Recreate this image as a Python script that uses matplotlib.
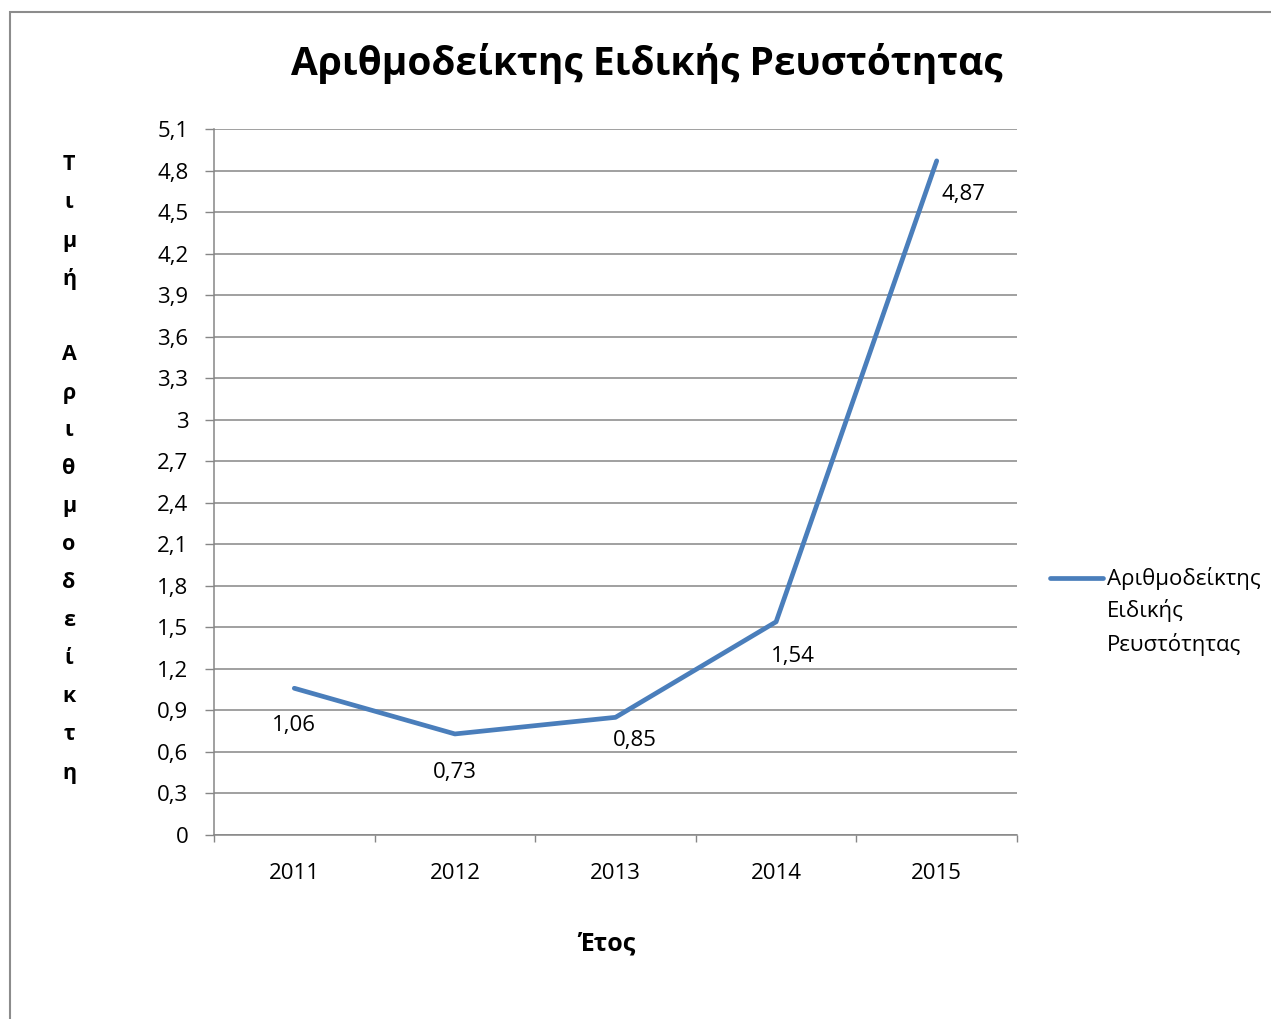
import matplotlib
matplotlib.use('Agg')
import matplotlib.pyplot as plt
from matplotlib.patches import Rectangle
from matplotlib.lines import Line2D

# --- data ---
years = ['2011', '2012', '2013', '2014', '2015']
values = [1.06, 0.73, 0.85, 1.54, 4.87]
value_labels = ['1,06', '0,73', '0,85', '1,54', '4,87']
label_offsets = [(0, -27), (0, -28), (14, -17), (12, -25), (19, -24)]  # points
y_ticks = [0, 0.3, 0.6, 0.9, 1.2, 1.5, 1.8, 2.1, 2.4, 2.7, 3.0, 3.3, 3.6, 3.9, 4.2, 4.5, 4.8, 5.1]
y_tick_labels = ['0', '0,3', '0,6', '0,9', '1,2', '1,5', '1,8', '2,1', '2,4', '2,7', '3',
                 '3,3', '3,6', '3,9', '4,2', '4,5', '4,8', '5,1']

title = 'Αριθμοδείκτης Ειδικής Ρευστότητας'
series_name = ['Αριθμοδείκτης', 'Ειδικής', 'Ρευστότητας']
y_title = 'Τιμή Αριθμοδείκτη'
x_title = 'Έτος'

plt.rcParams['font.family'] = ['Open Sans', 'Noto Sans', 'DejaVu Sans']

LINE = '#4A7EBB'
GRID = '#868686'
W, H = 1271, 1019
FS = 16

fig = plt.figure(figsize=(W / 100, H / 100), dpi=100)
fig.patch.set_facecolor('white')

# chart border (left/top visible, rest clipped)
fig.patches.append(Rectangle((10 / W, -0.05), 1.1, (H - 12) / H + 0.05,
                             transform=fig.transFigure, fill=False,
                             edgecolor='#8c8c8c', linewidth=1.5))

ax = fig.add_axes([214 / W, 1 - 835 / H, (1017 - 214) / W, (835 - 129) / H])

x = list(range(len(years)))
ax.plot(x, values, color=LINE, linewidth=3.4, solid_capstyle='round', zorder=3)

for xi, v, lab, off in zip(x, values, value_labels, label_offsets):
    ax.annotate(lab, (xi, v), xytext=off, textcoords='offset points',
                ha='center', va='center', fontsize=FS, color='black')

ax.set_xlim(-0.5, len(years) - 0.5)
ax.set_ylim(0, 5.1)
ax.set_yticks(y_ticks)
ax.set_yticklabels(y_tick_labels)
ax.set_xticks([i - 0.5 for i in range(len(years) + 1)])
ax.set_xticklabels([])
ax.set_xticks(x, minor=True)
ax.set_xticklabels(years, minor=True)

ax.tick_params(axis='y', length=6.5, width=1, color=GRID, pad=12, labelsize=FS)
ax.tick_params(axis='x', which='major', length=5, width=1, color=GRID)
ax.tick_params(axis='x', which='minor', length=0, pad=20, labelsize=FS)

ax.grid(axis='y', color=GRID, linewidth=1.1)
ax.set_axisbelow(True)
for s in ['top', 'right']:
    ax.spines[s].set_visible(False)
for s in ['left', 'bottom']:
    ax.spines[s].set_color(GRID)
    ax.spines[s].set_linewidth(1.1)

# title and axis titles
fig.text(647 / W, 1 - 63 / H, title, ha='center', va='center',
         fontsize=28, fontweight='bold')
fig.text(607 / W, 1 - 944 / H, x_title, ha='center', va='center',
         fontsize=18, fontweight='bold')

# vertical stacked y title, one letter per line
chars = list(y_title)
step = (773 - 165) / (len(chars) - 1)
for i, ch in enumerate(chars):
    fig.text(69 / W, 1 - (165 + i * step) / H, ch, ha='center', va='center',
             fontsize=15.5, fontweight='bold')

# legend
fig.lines.append(Line2D([1050 / W, 1103 / W], [1 - 578 / H, 1 - 578 / H],
                        transform=fig.transFigure, color=LINE, linewidth=3.4,
                        solid_capstyle='round'))
for i, part in enumerate(series_name):
    fig.text(1107 / W, 1 - (578 + i * 33) / H, part, ha='left', va='center',
             fontsize=FS)

fig.savefig('out.png', dpi=100)
